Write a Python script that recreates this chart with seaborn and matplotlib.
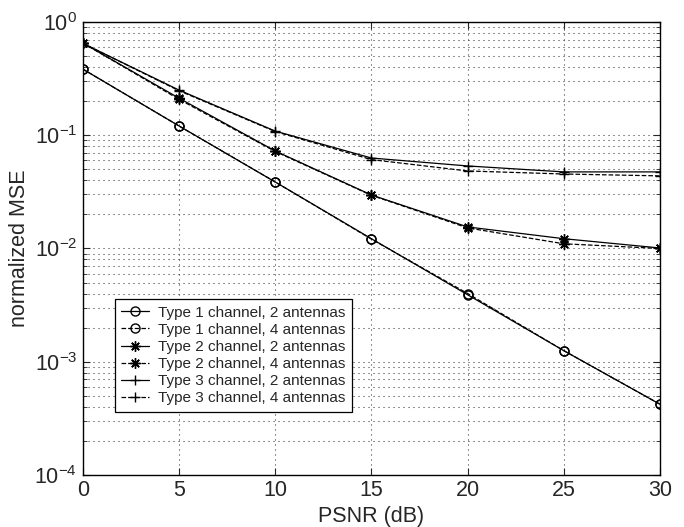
import numpy as np
import pandas as pd
import matplotlib
matplotlib.use("Agg")
import matplotlib.pyplot as plt
import seaborn as sns
from matplotlib.ticker import LogLocator, NullFormatter

# PSNR values (dB)
psnr = [0, 5, 10, 15, 20, 25, 30]

# normalized MSE
type1_2ant = [0.385, 0.121, 0.0387, 0.0122, 0.0039, 0.00125, 0.00042]
type1_4ant = [0.385, 0.121, 0.0387, 0.0121, 0.0040, 0.00125, 0.00042]
type2_2ant = [0.655, 0.213, 0.0727, 0.0297, 0.0155, 0.0122, 0.0101]
type2_4ant = [0.655, 0.208, 0.0720, 0.0295, 0.0152, 0.0110, 0.0100]
type3_2ant = [0.650, 0.251, 0.109, 0.063, 0.0536, 0.0475, 0.0475]
type3_4ant = [0.650, 0.248, 0.108, 0.061, 0.0484, 0.0455, 0.0438]

labels = ["Type 1 channel, 2 antennas", "Type 1 channel, 4 antennas",
          "Type 2 channel, 2 antennas", "Type 2 channel, 4 antennas",
          "Type 3 channel, 2 antennas", "Type 3 channel, 4 antennas"]

sns.set_style("ticks")
plt.rcParams['font.family'] = ['Liberation Sans', 'DejaVu Sans']

fig, ax = plt.subplots(figsize=(6.84, 5.27), dpi=100)
fig.subplots_adjust(left=0.121, right=0.965, top=0.958, bottom=0.099)

asterisk = (8, 2, 0)
series = [
    (type1_2ant, 'o', '-'),
    (type1_4ant, 'o', '--'),
    (type2_2ant, asterisk, '-'),
    (type2_4ant, asterisk, '--'),
    (type3_2ant, '+', '-'),
    (type3_4ant, '+', '--'),
]

for (vals, mk, ls), lab in zip(series, labels):
    size = 6.5 if mk == 'o' else 7.5
    sns.lineplot(x=psnr, y=vals, ax=ax, color='black', linewidth=0.9,
                 linestyle=ls, marker=mk, markersize=size,
                 markerfacecolor='none', markeredgecolor='black',
                 markeredgewidth=1.0, label=lab)

ax.set_yscale('log')
ax.set_xlim(0, 30)
ax.set_ylim(1e-4, 1)
ax.set_xticks([0, 5, 10, 15, 20, 25, 30])
ax.yaxis.set_major_locator(LogLocator(base=10, numticks=10))
ax.yaxis.set_minor_locator(LogLocator(base=10, subs=np.arange(2, 10), numticks=20))
ax.yaxis.set_minor_formatter(NullFormatter())

# sparse dotted grid, major on both axes, minor on y only
dots = (0, (1, 3.8))
ax.grid(True, which='major', axis='both', linestyle=dots, color='#333333', linewidth=0.75)
ax.grid(True, which='minor', axis='y', linestyle=dots, color='#333333', linewidth=0.75)

ax.tick_params(which='both', direction='in', top=True, right=True, labelsize=15.5)
ax.tick_params(which='major', length=5)
ax.tick_params(which='minor', length=3)
ax.tick_params(axis='y', which='major', pad=4)
for sp in ax.spines.values():
    sp.set_visible(True)
    sp.set_linewidth(1.0)
    sp.set_color('black')

ax.set_xlabel("PSNR (dB)", fontsize=15.5)
ax.set_ylabel("normalized MSE", fontsize=15.5)
ax.yaxis.set_label_coords(-0.092, 0.5)

leg = ax.legend(loc='lower left', bbox_to_anchor=(0.055, 0.139), fontsize=11,
                frameon=True, fancybox=False, edgecolor='black', framealpha=1,
                handlelength=1.8, borderpad=0.45, labelspacing=0.2, handletextpad=0.6,
                borderaxespad=0)
leg.get_frame().set_linewidth(0.9)

fig.savefig("out.png", dpi=100)
